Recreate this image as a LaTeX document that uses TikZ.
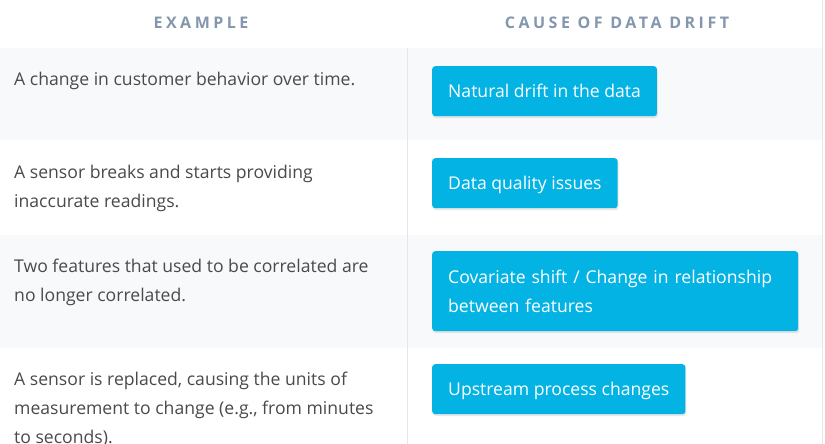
\documentclass[tikz,border=0pt]{standalone}
\usepackage{fontspec}
\setmainfont{Open Sans}
\newfontfamily\headfont[LetterSpace=22]{Open Sans}
\usetikzlibrary{shadows}

\definecolor{drifthead}{HTML}{8497AD}
\definecolor{drifttext}{HTML}{4A4A4A}
\definecolor{driftcyan}{HTML}{03B3E3}
\definecolor{driftrow}{HTML}{F8F9FB}
\definecolor{driftline}{HTML}{E3E6EA}

\begin{document}
\begin{tikzpicture}[
    x=1pt, y=-1pt,
    head/.style={font=\headfont\bfseries\fontsize{16}{19}\selectfont, text=drifthead, inner sep=0pt, anchor=base},
    example/.style={font=\fontsize{17.6}{29}\selectfont, text=drifttext, align=left, anchor=base west, inner sep=0pt},
    cause/.style={rectangle, fill=driftcyan, rounded corners=3pt, text=white, font=\fontsize{17.6}{29}\selectfont, align=left, anchor=north west, inner xsep=16pt, inner ysep=0pt, minimum height=50pt, drop shadow={opacity=0.18, shadow xshift=1pt, shadow yshift=-2pt}},
    oneline/.style={cause, text height=13pt, text depth=0pt},
]
\clip (0,0) rectangle (825,444);
\fill[white] (0,0) rectangle (825,444);

% Rows
\fill[driftrow] (0,48) rectangle (822,140);
\fill[driftrow] (0,235) rectangle (822,348);
\draw[driftline] (407.5,48) -- (407.5,444);
\draw[driftline] (822.5,0) -- (822.5,444);

% Header
\node[head] (hexample) at (201,29) {EXAMPLE};
\node[head] (hcause) at (617,29) {CAUSE OF DATA DRIFT};

% Examples (base = last line)
\node[example] (ex1) at (14,85) {A change in customer behavior over time.};
\node[example] (ex2) at (14,207) {A sensor breaks and starts providing\\inaccurate readings.};
\node[example] (ex3) at (14,301) {Two features that used to be correlated are\\no longer correlated.};
\node[example] (ex4) at (14,443) {A sensor is replaced, causing the units of\\measurement to change (e.g., from minutes\\to seconds).};

% Causes
\node[oneline] (natural) at (432,66) {Natural drift in the data};
\node[oneline] (quality) at (432,158) {Data quality issues};
\node[cause, minimum height=80pt, text width=334pt] (covariate) at (432,251) {Covariate shift / Change in relationship\\between features};
\node[oneline] (upstream) at (432,364) {Upstream process changes};

\end{tikzpicture}
\end{document}
